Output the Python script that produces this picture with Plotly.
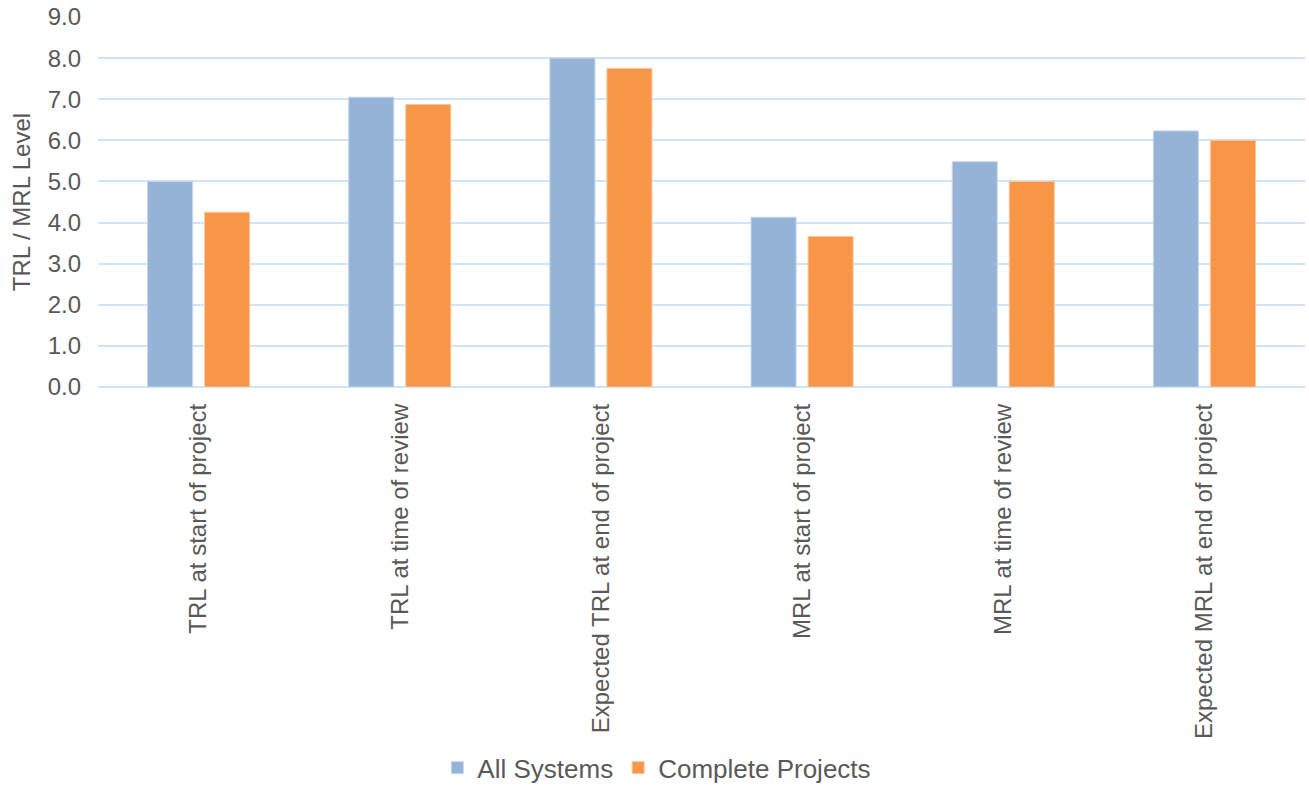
import plotly.graph_objects as go

categories = ["TRL at start of project", "TRL at time of review", "Expected TRL at end of project",
              "MRL at start of project", "MRL at time of review", "Expected MRL at end of project"]
all_systems = [5.0, 7.05, 8.0, 4.13, 5.48, 6.23]
complete_projects = [4.25, 6.87, 7.75, 3.66, 5.0, 6.0]

fig = go.Figure()
fig.add_trace(go.Bar(x=categories, y=all_systems, name="All Systems",
                     marker=dict(color="#95b3d7", line=dict(color="#c5d6ec", width=1))))
fig.add_trace(go.Bar(x=categories, y=complete_projects, name="Complete Projects",
                     marker=dict(color="#f79646", line=dict(color="#fbc79e", width=1))))

fig.update_layout(
    width=1309, height=796,
    margin=dict(l=98, r=4, t=17, b=399),
    paper_bgcolor="white", plot_bgcolor="white",
    font=dict(family="Liberation Sans, Arial, sans-serif", size=24, color="#595959"),
    bargap=0.433, bargroupgap=0.21,
    showlegend=True,
    legend=dict(orientation="h", x=0.463, xanchor="center", y=-1.029, yanchor="middle",
                font=dict(size=26, color="#595959"), traceorder="normal"),
    xaxis=dict(tickangle=-90, showgrid=False, showline=False, ticks="", automargin=False,
               ticklabelstandoff=11,
               tickfont=dict(size=24, color="#595959")),
    yaxis=dict(range=[0, 9], dtick=1, tickformat=".1f", showgrid=True, gridcolor="#cde4f9",
               gridwidth=1.5, zeroline=True, zerolinecolor="#cde4f9", zerolinewidth=1.5,
               showline=False, ticks="", automargin=False, ticklabelstandoff=16,
               tickfont=dict(size=24, color="#595959"),
               title=dict(text="TRL / MRL Level", font=dict(size=24, color="#595959"), standoff=10)),
)

post = ("document.body.style.margin='0';"
        "document.documentElement.style.overflow='hidden';"
        "document.body.style.overflow='hidden';"
        "var d=document.getElementById('{plot_id}');"
        "d.style.position='fixed';d.style.top='0px';d.style.left='0px';")

fig.write_html("out.html", config={"displayModeBar": False}, post_script=post)
